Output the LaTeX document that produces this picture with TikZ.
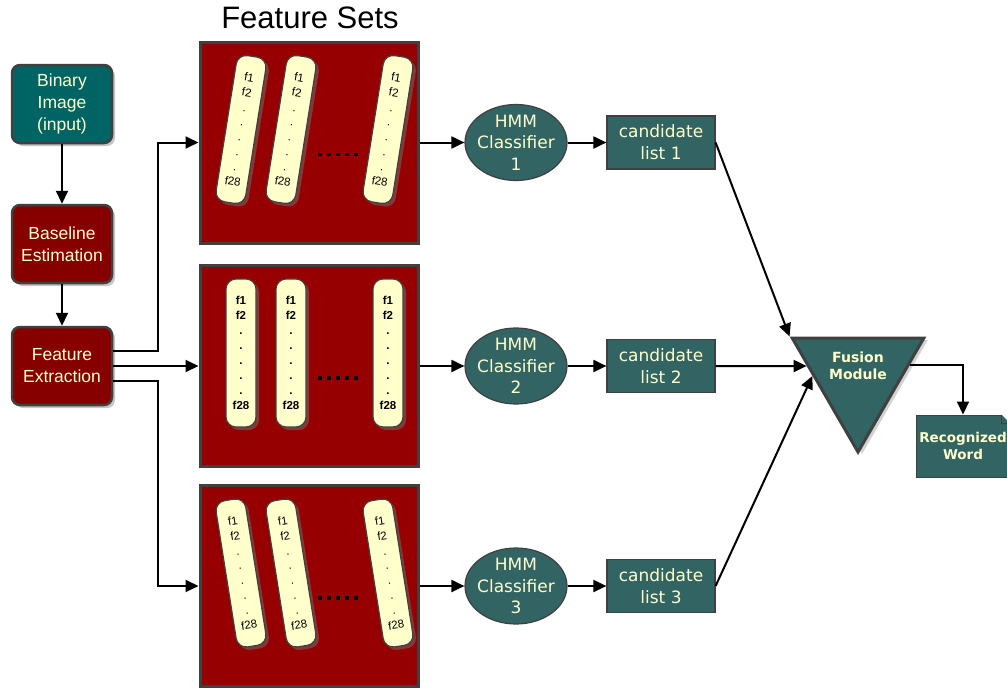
\documentclass[tikz,border=0pt]{standalone}
\usepackage{fontspec}
\setmainfont{Liberation Sans}
\newfontfamily\verdana{DejaVu Sans}
\usetikzlibrary{arrows.meta,shapes.geometric,shadows}

\definecolor{bordergray}{RGB}{64,64,64}
\definecolor{inputteal}{RGB}{0,100,100}
\definecolor{darkteal}{RGB}{50,100,100}
\definecolor{procred}{RGB}{135,0,0}
\definecolor{setred}{RGB}{150,0,0}
\definecolor{paleyellow}{RGB}{255,255,204}

\newcommand{\featcol}{f1\\f2\\.\\.\\.\\.\\.\\f28}

\tikzset{
  procbox/.style={rectangle, rounded corners=8pt, draw=bordergray, line width=2.5pt,
    text=paleyellow, minimum width=100pt, minimum height=78pt, align=center,
    font=\fontsize{17.5}{22}\selectfont,
    drop shadow={shadow xshift=3pt, shadow yshift=-3pt, fill=black!45}},
  setbox/.style={rectangle, draw=bordergray, line width=3pt, fill=setred,
    minimum width=218pt, minimum height=201pt},
  featbar/.style={rectangle, rounded corners=10pt, draw=bordergray, line width=1.2pt,
    fill=paleyellow, minimum width=30pt, minimum height=148pt, inner sep=0pt,
    align=center, drop shadow={shadow xshift=3pt, shadow yshift=-3pt, fill=black!55}},
  hmmnode/.style={ellipse, draw=bordergray, line width=1.2pt, fill=darkteal,
    minimum width=102pt, minimum height=76pt, inner sep=0pt},
  nodetext/.style={text=paleyellow, align=center, inner sep=0pt,
    font=\verdana\fontsize{17}{21.5}\selectfont},
  candbox/.style={rectangle, draw=bordergray, line width=1.2pt, fill=darkteal,
    text=paleyellow, align=center, minimum width=108pt, minimum height=53pt,
    inner sep=2pt, font=\verdana\fontsize{17}{22}\selectfont},
  fusionnode/.style={regular polygon, regular polygon sides=3, shape border rotate=180,
    draw=bordergray, line width=3pt, fill=darkteal, minimum size=152pt, inner sep=0pt,
    drop shadow={shadow xshift=4pt, shadow yshift=-2pt, fill=black!35}},
  boldtext/.style={text=paleyellow, align=center, inner sep=0pt,
    font=\verdana\bfseries\fontsize{14}{17}\selectfont},
  docbox/.style={rectangle, draw=bordergray, line width=1pt, fill=darkteal,
    minimum width=94pt, minimum height=62pt, inner sep=0pt},
  arr/.style={-{Triangle[length=13pt,width=12pt]}, line width=2pt},
  dotline/.style={line width=3.5pt, dash pattern=on 4pt off 5pt}
}

\begin{document}
\begin{tikzpicture}[x=1pt, y=-1pt]
\useasboundingbox (0,0) rectangle (1007,691);

\node[font=\fontsize{31}{36}\selectfont] (title) at (310,18) {Feature Sets};

% left column
\node[procbox, fill=inputteal] (inp) at (62,104) {Binary\\Image\\(input)};
\node[procbox, fill=procred] (base) at (62,244) {Baseline\\Estimation};
\node[procbox, fill=procred] (fext) at (62,366) {Feature\\Extraction};

% feature sets
\node[setbox] (set1) at (309,142.5) {};
\node[setbox] (set2) at (309,366) {};
\node[setbox] (set3) at (309,586) {};

\foreach \s/\r/\w in {1/-9/\mdseries, 2/0/\bfseries, 3/9/\mdseries}{
  \foreach \b/\dx in {1/-68, 2/-18, 3/79}
    \node[featbar, rotate=\r, font=\w\fontsize{11.5}{15}\selectfont] (bar\s\b)
      at ([shift={(\dx,-13)}]set\s.center) {\featcol};
  \draw[dotline] ([shift={(9,12)}]set\s.center) -- ++(44,0);
}

% classifiers
\foreach \s in {1,2,3}{
  \node[hmmnode, label={[nodetext]center:HMM\\Classifier\\\s}] (hmm\s)
    at (set\s.center -| 516,0) {};
  \node[candbox] (cand\s) at (set\s.center -| 661,0) {candidate\\list \s};
  \draw[arr] (set\s.east) -- (hmm\s.west);
  \draw[arr] (hmm\s.east) -- (cand\s.west);
}

% fusion
\node[fusionnode, label={[boldtext, yshift=10pt]center:Fusion\\Module}] (fusion) at (858,376) {};
\node[docbox] (word) at (963,446) {};
\node[boldtext, font=\verdana\bfseries\fontsize{13.5}{17}\selectfont] (wordtext) at (word.center) {Recognized\\Word};
\fill[white] ([xshift=-9pt]word.north east) -- ([yshift=-9pt]word.north east)
  -- ([shift={(1pt,1pt)}]word.north east) -- cycle;
\draw[bordergray, line width=1pt] ([xshift=-9pt]word.north east) |- ([yshift=-9pt]word.north east);

% connectors
\draw[arr] (inp) -- (base);
\draw[arr] (base) -- (fext);
\draw[arr] ([yshift=15pt]fext.east) -- ++(45,0) |- (set1.west);
\draw[arr] (fext.east) -- (set2.west);
\draw[arr] ([yshift=-15pt]fext.east) -- ++(45,0) |- (set3.west);
\draw[arr] (cand1.east) -- (fusion.corner 3);
\draw[arr] (cand2.east) -- (fusion.169);
\draw[arr] (cand3.east) -- (fusion.west);
\draw[arr] (fusion.12) -| (word.north);
\end{tikzpicture}
\end{document}
